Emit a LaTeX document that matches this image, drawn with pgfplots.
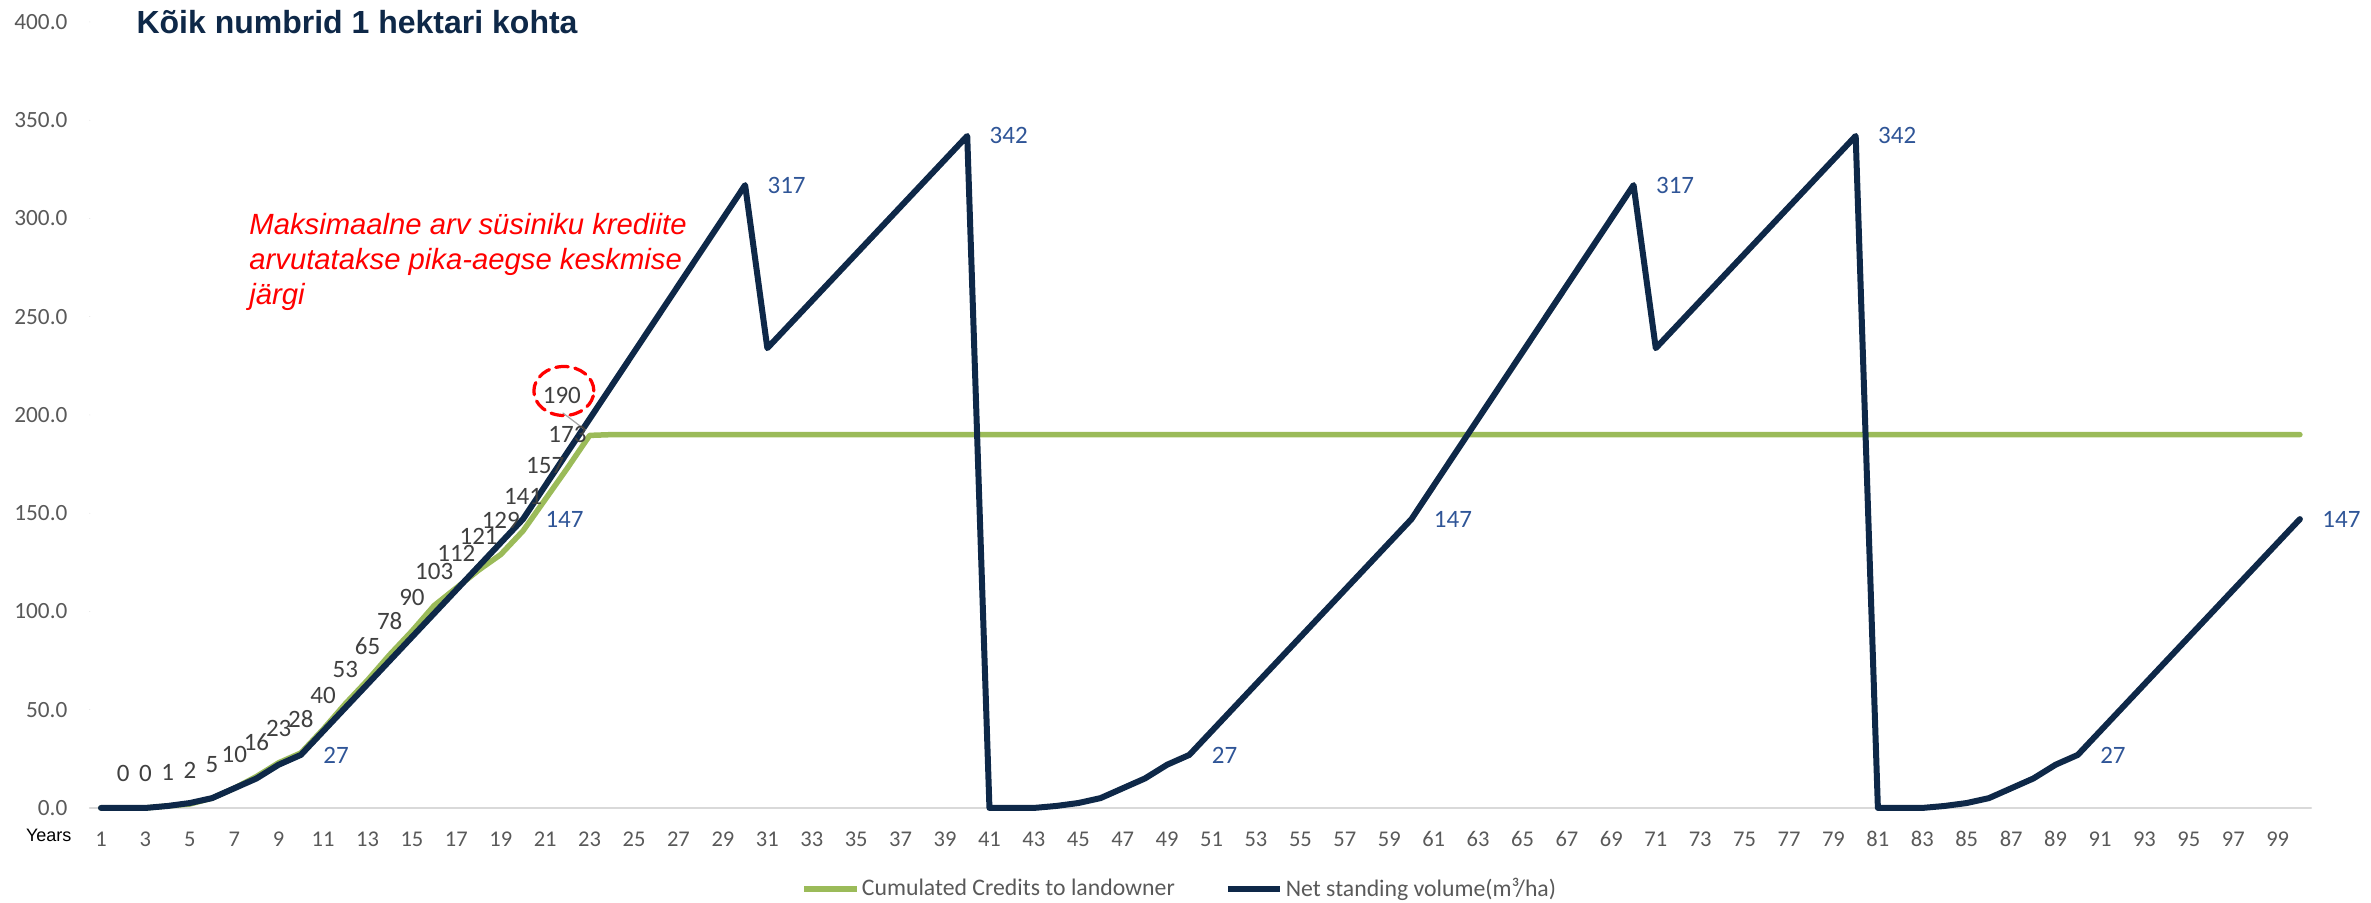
\documentclass[border=0pt]{standalone}
\usepackage{pgfplots}
\pgfplotsset{compat=1.18}
\usepackage{pgfplotstable}
\usepackage{fontspec}
\setmainfont{Carlito}
\newfontfamily\arialf{Liberation Sans}

\definecolor{navy}{RGB}{14,40,72}
\definecolor{olive}{RGB}{155,187,89}
\definecolor{lblblue}{RGB}{47,85,151}
\definecolor{lblgray}{RGB}{64,64,64}
\definecolor{tickgray}{RGB}{89,89,89}
\definecolor{basegray}{RGB}{217,217,217}

% Net standing volume (m3/ha), years 1-100
\pgfplotstableread{
year vol
1 0
2 0
3 0
4 1
5 2.5
6 5
7 10
8 15
9 22
10 27
11 39
12 51
13 63
14 75
15 87
16 99
17 111
18 123
19 135
20 147
21 164
22 181
23 198
24 215
25 232
26 249
27 266
28 283
29 300
30 317
31 234
32 246
33 258
34 270
35 282
36 294
37 306
38 318
39 330
40 342
41 0
42 0
43 0
44 1
45 2.5
46 5
47 10
48 15
49 22
50 27
51 39
52 51
53 63
54 75
55 87
56 99
57 111
58 123
59 135
60 147
61 164
62 181
63 198
64 215
65 232
66 249
67 266
68 283
69 300
70 317
71 234
72 246
73 258
74 270
75 282
76 294
77 306
78 318
79 330
80 342
81 0
82 0
83 0
84 1
85 2.5
86 5
87 10
88 15
89 22
90 27
91 39
92 51
93 63
94 75
95 87
96 99
97 111
98 123
99 135
100 147
}\volume

% Cumulated credits to landowner
\pgfplotstableread{
year cred
1 0
2 0
3 0
4 1
5 2
6 5
7 10
8 16
9 23
10 28
11 40
12 53
13 65
14 78
15 90
16 103
17 112
18 121
19 129
20 141
21 157
22 173
23 189.6
24 190
30 190
40 190
50 190
60 190
70 190
80 190
90 190
100 190
}\credits

% data labels
\pgfplotstableread{
year cred lbl
2 0 0
3 0 0
4 1 1
5 2 2
6 5 5
7 10 10
8 16 16
9 23 23
10 28 28
11 40 40
12 53 53
13 65 65
14 78 78
15 90 90
16 103 103
17 112 112
18 121 121
19 129 129
20 141 141
21 157 157
22 173 173
}\credlbl

\pgfplotstableread{
year vol lbl
10 27 27
20 147 147
30 317 317
40 342 342
50 27 27
60 147 147
70 317 317
80 342 342
90 27 27
100 147 147
}\vollbl

\begin{document}
\begin{tikzpicture}
\begin{axis}[
    scale only axis,
    width=888.5pt, height=314.4pt,
    xmin=0.5, xmax=100.5,
    ymin=0, ymax=400,
    clip=false,
    axis lines*=left,
    x axis line style={draw=basegray, line width=0.8pt},
    y axis line style={draw=none},
    major tick length=0pt,
    xtick={1,3,...,99},
    ytick={0,50,...,400},
    /pgf/number format/assume math mode=true,
    xticklabel style={font=\fontsize{9}{10}\selectfont, text=tickgray,
        inner sep=0pt, anchor=center, yshift=-12.4pt},
    yticklabel style={font=\fontsize{9.3}{10}\selectfont, text=tickgray,
        inner sep=0pt, xshift=-8.8pt,
        /pgf/number format/.cd, fixed, fixed zerofill, precision=1},
    legend columns=2,
    legend style={at={(0.4908,-0.103)}, anchor=center, draw=none, fill=none,
        font=\fontsize{9.5}{11}\selectfont, text=tickgray,
        nodes={inner sep=1pt},
        /tikz/every even column/.append style={column sep=19pt}},
    legend image code/.code={\draw[#1] (0pt,0pt) -- (21pt,0pt);},
    line join=round, line cap=round,
]
\addplot[olive, line width=2.2pt, mark=none] table[x=year, y=cred] {\credits};
\addlegendentry{Cumulated Credits to landowner}
\addplot[navy, line width=2.4pt, mark=none] table[x=year, y=vol] {\volume};
\addlegendentry{Net standing volume(m³/ha)}

\addplot[draw=none, mark=none, forget plot, point meta=explicit symbolic,
    nodes near coords,
    nodes near coords style={anchor=center, yshift=13.6pt, inner sep=0pt,
        font=\fontsize{10}{11}\selectfont, text=lblgray}]
    table[x=year, y=cred, meta=lbl] {\credlbl};
\addplot[draw=none, mark=none, forget plot, point meta=explicit symbolic,
    nodes near coords,
    nodes near coords style={anchor=west, xshift=8.8pt, yshift=0pt, inner sep=0pt,
        font=\fontsize{10}{11}\selectfont, text=lblblue}]
    table[x=year, y=vol, meta=lbl] {\vollbl};

% the 190 label, moved off its point and circled
\draw[black!35, line width=0.5pt] (axis cs:21.8,201) -- (axis cs:22.8,192.4);
\node[inner sep=0pt, font=\fontsize{10}{11}\selectfont, text=lblgray]
    at (axis cs:21.75,210) {190};
\draw[red, dashed, dash pattern=on 5pt off 2.7pt, line width=1.3pt]
    (axis cs:21.84,212.2) ellipse [x radius=12pt, y radius=9.8pt];

\node[anchor=west, inner sep=0pt, font=\arialf\bfseries\fontsize{12.8}{14}\selectfont, text=navy]
    at (axis cs:2.58,400) {Kõik numbrid 1 hektari kohta};
\node[anchor=north west, inner sep=0pt, align=left, text=red,
    font=\arialf\itshape\fontsize{11.7}{14}\selectfont]
    at (axis cs:7.66,303) {Maksimaalne arv süsiniku krediite\\arvutatakse pika-aegse keskmise\\järgi};
\node[anchor=east, inner sep=0pt, font=\arialf\fontsize{7.2}{8}\selectfont, text=black]
    at ([xshift=-7.2pt, yshift=-10.8pt]rel axis cs:0,0) {Years};

\coordinate (A) at (rel axis cs:0,0);
\coordinate (B) at (rel axis cs:1,1);
\end{axis}
\pgfresetboundingbox
\path ([shift={(-35.96pt,-38pt)}]A) rectangle ([shift={(24pt,8.8pt)}]B);
\end{tikzpicture}
\end{document}
